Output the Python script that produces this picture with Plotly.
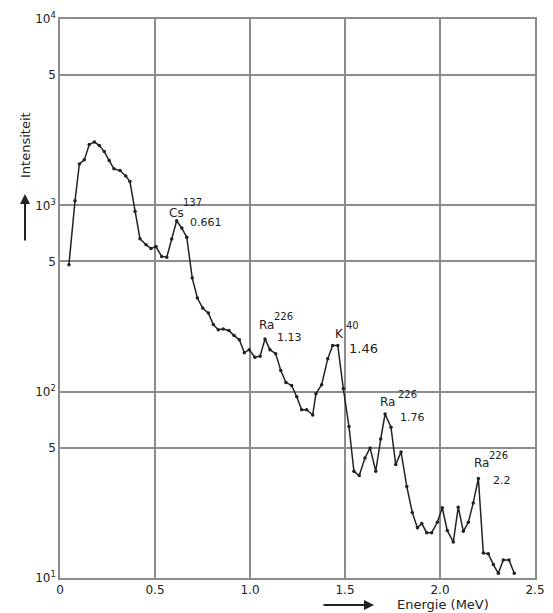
import plotly.graph_objects as go

# Energy (MeV) and intensity
energy = [0.047, 0.079, 0.102, 0.128, 0.154, 0.181, 0.207, 0.233, 0.259, 0.284,
          0.316, 0.346, 0.368, 0.395, 0.421, 0.453, 0.479, 0.505, 0.535, 0.562,
          0.588, 0.614, 0.641, 0.667, 0.696, 0.723, 0.751, 0.781, 0.807, 0.833,
          0.859, 0.889, 0.916, 0.944, 0.970, 0.996, 1.026, 1.053, 1.079, 1.105,
          1.135, 1.162, 1.189, 1.219, 1.246, 1.272, 1.298, 1.330, 1.347, 1.377,
          1.409, 1.435, 1.462, 1.491, 1.521, 1.547, 1.575, 1.605, 1.632, 1.662,
          1.688, 1.711, 1.742, 1.767, 1.795, 1.825, 1.854, 1.881, 1.904, 1.930,
          1.956, 1.986, 2.012, 2.038, 2.070, 2.096, 2.123, 2.149, 2.175, 2.202,
          2.228, 2.254, 2.281, 2.307, 2.333, 2.363, 2.391]
intensity = [480, 1057, 1669, 1754, 2118, 2190, 2093, 1943, 1739, 1570,
             1537, 1439, 1342, 926, 661, 614, 586, 601, 532, 527,
             659, 826, 755, 675, 407, 318, 281, 264, 229, 215,
             217, 213, 200, 190, 162, 168, 153, 155, 192, 168,
             160, 130, 112, 108, 94, 80, 80, 75, 97.5, 109,
             150, 177, 177, 104, 65, 37.4, 35.5, 44.1, 49.9, 37.4,
             55.8, 75.9, 64.4, 40.6, 47.5, 31.0, 22.5, 18.6, 19.6, 17.5,
             17.5, 19.9, 23.8, 18.0, 15.6, 24.0, 17.8, 19.9, 25.3, 34.2,
             13.6, 13.5, 11.8, 10.6, 12.5, 12.5, 10.6]

x_ticks = [0, 0.5, 1.0, 1.5, 2.0, 2.5]
x_ticktext = ["0", "0.5", "1.0", "1.5", "2.0", "2.5"]
y_ticks = [10, 50, 100, 500, 1000, 5000, 10000]
y_ticktext = ["10<sup>1</sup>", "5", "10<sup>2</sup>", "5", "10<sup>3</sup>", "5", "10<sup>4</sup>"]

OFF = 8  # default page body margin
W, H = 553 - OFF, 613 - OFF
# plot area in page pixels
L, R, T, B = 60, 535, 19, 578

def px(xp):
    return (xp - L) / (R - L)

def py(yp):
    return (B - yp) / (B - T)

FONT = "DejaVu Sans"
INK = "#222222"
GRID = "#8c8c8c"

fig = go.Figure()
fig.add_trace(go.Scatter(
    x=energy, y=intensity, mode="lines+markers",
    line=dict(color=INK, width=1.5),
    marker=dict(color=INK, size=3.5),
    showlegend=False, hoverinfo="skip"))

fig.update_layout(
    width=W, height=H,
    margin=dict(l=L - OFF, r=553 - R, t=T - OFF, b=613 - B, autoexpand=False),
    paper_bgcolor="white", plot_bgcolor="white",
    font=dict(family=FONT, color=INK, size=12),
    xaxis=dict(range=[0, 2.5], tickvals=x_ticks, ticktext=x_ticktext,
               showgrid=True, gridcolor=GRID, gridwidth=1.5,
               showline=True, linecolor=GRID, linewidth=1.5, mirror=True,
               ticks="", zeroline=False, tickfont=dict(size=12)),
    yaxis=dict(type="log", range=[1, 4], tickvals=y_ticks, ticktext=y_ticktext,
               showgrid=True, gridcolor=GRID, gridwidth=1.5,
               showline=True, linecolor=GRID, linewidth=1.5, mirror=True,
               ticks="", zeroline=False, tickfont=dict(size=12)),
)

labels = [
    ("Cs", 176, 213, 12), ("137", 192, 202, 10), ("0.661", 206, 223, 11),
    ("Ra", 266, 325, 12), ("226", 283, 316, 10), ("1.13", 289, 337, 11),
    ("K", 339, 334, 12), ("40", 352, 326, 10), ("1.46", 363, 348, 13),
    ("Ra", 387, 402, 12), ("226", 407, 394, 10), ("1.76", 412, 417, 11),
    ("Ra", 481, 463, 12), ("226", 498, 455, 10), ("2.2", 502, 480, 11),
]
for text, xp, yp, size in labels:
    fig.add_annotation(text=text, x=px(xp), y=py(yp), xref="paper", yref="paper",
                       xanchor="center", yanchor="middle",
                       showarrow=False, font=dict(size=size, color=INK))

# axis titles with arrows
fig.add_annotation(text="Intensiteit", x=px(25), y=py(145), xref="paper", yref="paper",
                   xanchor="center", yanchor="middle",
                   showarrow=False, textangle=-90, font=dict(size=13, color=INK))
fig.add_annotation(text="", x=px(25), y=py(194), xref="paper", yref="paper",
                   ax=0, ay=48, showarrow=True, arrowhead=2, arrowsize=1,
                   arrowwidth=2, arrowcolor=INK)
fig.add_annotation(text="Energie (MeV)", x=px(443), y=py(604), xref="paper", yref="paper",
                   xanchor="center", yanchor="middle",
                   showarrow=False, font=dict(size=13, color=INK))
fig.add_annotation(text="", x=px(374), y=py(605), xref="paper", yref="paper",
                   ax=-52, ay=0, showarrow=True, arrowhead=2, arrowsize=1,
                   arrowwidth=2, arrowcolor=INK)

fig.write_html("out.html")
